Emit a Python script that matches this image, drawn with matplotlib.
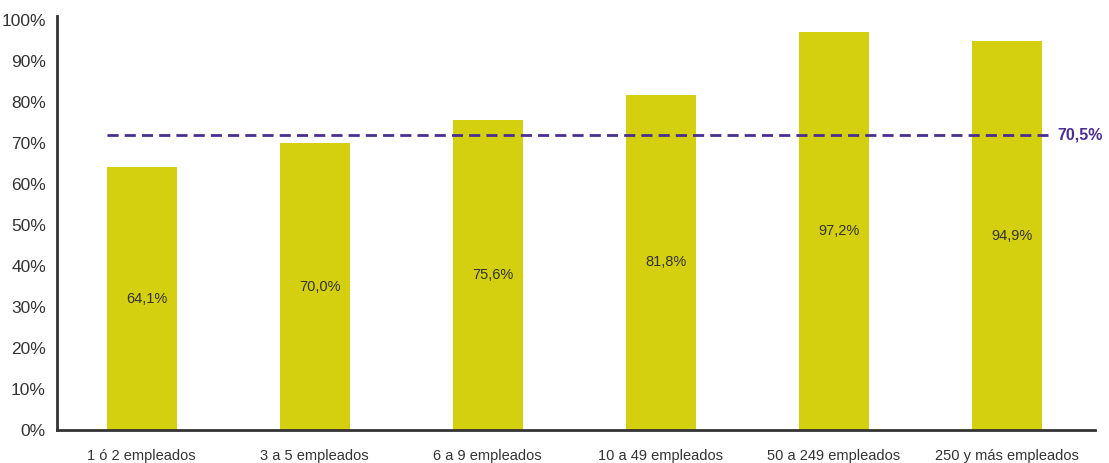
import matplotlib
matplotlib.use("Agg")
import matplotlib.pyplot as plt
from matplotlib import font_manager

categories = ["1 ó 2 empleados", "3 a 5 empleados", "6 a 9 empleados",
              "10 a 49 empleados", "50 a 249 empleados", "250 y más empleados"]
values = [64.1, 70.0, 75.6, 81.8, 97.2, 94.9]
value_labels = ["64,1%", "70,0%", "75,6%", "81,8%", "97,2%", "94,9%"]
avg_level = 71.9
avg_label = "70,5%"
yticks = [0, 10, 20, 30, 40, 50, 60, 70, 80, 90, 100]
ytick_labels = [f"{t}%" for t in yticks]

names = {f.name for f in font_manager.fontManager.ttflist}
fam = "Liberation Sans Narrow" if "Liberation Sans Narrow" in names else "Liberation Sans"
plt.rcParams['font.family'] = [fam, 'DejaVu Sans']

fig = plt.figure(figsize=(11.09, 4.63), dpi=100)
ax = fig.add_axes([57/1109, 33/463, (1095-57)/1109, (430-16)/463])

x = list(range(len(categories)))
ax.bar(x, values, width=0.405, color="#D4CF0F")
for xi, v, lab in zip(x, values, value_labels):
    ax.text(xi + 0.03, v / 2, lab, ha="center", va="center", fontsize=10.5, color="#333333")

ax.plot([-0.2, 5.24], [avg_level, avg_level], color="#4A2E91", lw=2, ls=(0, (4, 2.2)))
ax.text(5.29, avg_level, avg_label, ha="left", va="center", fontsize=11.5,
        fontweight="bold", color="#4A2E91")

ax.set_xlim(-0.49, 5.51)
ax.set_ylim(0, 101)
ax.set_xticks(x)
ax.set_xticklabels(categories, fontsize=10.5, color="#333333")
ax.set_yticks(yticks)
ax.set_yticklabels(ytick_labels, fontsize=12.5, color="#333333")
ax.tick_params(axis="y", length=0, pad=8)
ax.tick_params(axis="x", length=0, pad=14)
for s in ["top", "right"]:
    ax.spines[s].set_visible(False)
for s in ["left", "bottom"]:
    ax.spines[s].set_color("#333333")
    ax.spines[s].set_linewidth(2)

fig.savefig("out.png", dpi=100)
